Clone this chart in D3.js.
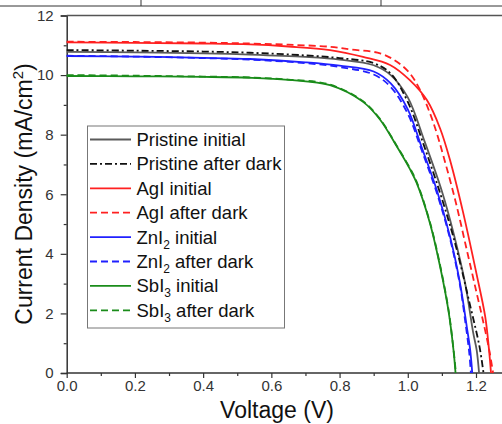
<!DOCTYPE html>
<html>
<head>
<meta charset="utf-8">
<script src="https://cdn.jsdelivr.net/npm/d3@7"></script>
<style>
  html, body { margin: 0; padding: 0; background: #fff; }
  svg { display: block; font-family: Arial, "Liberation Sans", sans-serif; }
</style>
</head>
<body>
<script>
'use strict';

// voltage (V) / current density (mA/cm2)
const pristineInitial = [
  [0, 10.78], [0.2, 10.76], [0.4, 10.73], [0.537, 10.69], [0.7, 10.61], [0.8, 10.52],
  [0.9, 10.33], [0.95, 10.0], [1.0, 9.25], [1.05, 7.75], [1.1, 6.1], [1.134, 4.7],
  [1.168, 3.02], [1.192, 1.34], [1.202, 0.77], [1.209, 0]
];
const pristineDark = [
  [0, 10.84], [0.2, 10.82], [0.4, 10.79], [0.537, 10.75], [0.7, 10.66], [0.8, 10.57],
  [0.9, 10.4], [0.95, 10.05], [1.0, 9.1], [1.05, 7.55], [1.1, 5.85], [1.14, 4.3],
  [1.18, 2.4], [1.21, 0.9], [1.222, 0]
];
const agiInitial = [
  [0, 11.1], [0.2, 11.08], [0.4, 11.06], [0.537, 11.03], [0.65, 10.96], [0.772, 10.84],
  [0.869, 10.61], [0.948, 10.34], [1.006, 9.83], [1.056, 9.16], [1.095, 8.2],
  [1.125, 7.1], [1.162, 5.4], [1.202, 3.3], [1.227, 1.89], [1.238, 0.8], [1.244, 0]
];
const agiDark = [
  [0, 11.12], [0.2, 11.11], [0.4, 11.09], [0.537, 11.06], [0.65, 11.02], [0.772, 10.95],
  [0.831, 10.86], [0.919, 10.73], [0.968, 10.45], [1.006, 10.06], [1.036, 9.5],
  [1.065, 8.72], [1.085, 8.05], [1.104, 7.3], [1.139, 5.81], [1.173, 4.13],
  [1.202, 2.68], [1.222, 1.68], [1.24, 0.7], [1.25, 0]
];
const zniInitial = [
  [0, 10.64], [0.2, 10.62], [0.4, 10.58], [0.537, 10.54], [0.7, 10.43], [0.8, 10.32],
  [0.9, 10.12], [0.95, 9.72], [1.0, 8.85], [1.04, 7.6], [1.085, 6.14], [1.124, 4.57],
  [1.153, 3.02], [1.173, 1.55], [1.183, 0.77], [1.189, 0]
];
const zniDark = [
  [0, 10.65], [0.2, 10.62], [0.4, 10.57], [0.537, 10.52], [0.7, 10.4], [0.8, 10.27],
  [0.9, 10.02], [0.95, 9.6], [1.0, 8.7], [1.04, 7.5], [1.085, 6.05], [1.124, 4.5],
  [1.153, 2.95], [1.17, 1.6], [1.18, 0.7], [1.185, 0]
];
const sbiInitial = [
  [0, 9.97], [0.2, 9.96], [0.4, 9.94], [0.537, 9.91], [0.65, 9.84], [0.772, 9.66],
  [0.869, 9.1], [0.919, 8.5], [0.968, 7.6], [1.006, 6.85], [1.026, 6.38], [1.065, 5.03],
  [1.095, 3.56], [1.119, 2.11], [1.134, 0.77], [1.14, 0]
];
const sbiDark = [
  [0, 10.0], [0.2, 9.98], [0.4, 9.95], [0.537, 9.92], [0.65, 9.85], [0.772, 9.68],
  [0.869, 9.12], [0.919, 8.52], [0.968, 7.62], [1.006, 6.88], [1.026, 6.42], [1.065, 5.06],
  [1.095, 3.6], [1.119, 2.15], [1.134, 0.8], [1.141, 0]
];

const seriesNames = [
  ['Pristine initial'], ['Pristine after dark'],
  ['AgI initial'], ['AgI after dark'],
  ['ZnI', '2', ' initial'], ['ZnI', '2', ' after dark'],
  ['SbI', '3', ' initial'], ['SbI', '3', ' after dark']
];
const seriesData = [pristineInitial, pristineDark, agiInitial, agiDark,
                    zniInitial, zniDark, sbiInitial, sbiDark];
const seriesColors = ['#5a5a5a', '#111111', '#ff2020', '#ff2020',
                      '#2020ff', '#2020ff', '#1a8c1a', '#1a8c1a'];
const seriesDash = ['none', '7,3,2,3', 'none', '7,4', 'none', '7,4', 'none', '7,4'];

const xTicks = [0, 0.2, 0.4, 0.6, 0.8, 1.0, 1.2];
const yTicks = [0, 2, 4, 6, 8, 10, 12];

const W = 502, H = 424;

const svg = d3.select('body').append('svg')
  .attr('width', W)
  .attr('height', H)
  .attr('viewBox', '0 0 ' + W + ' ' + H);

// edge of the table above the figure
svg.append('line').attr('x1', 0).attr('x2', W).attr('y1', 6).attr('y2', 6)
  .attr('stroke', '#333').attr('stroke-width', 1);
[141, 381].forEach((x) => {
  svg.append('line').attr('x1', x).attr('x2', x).attr('y1', 0).attr('y2', 6)
    .attr('stroke', '#333').attr('stroke-width', 1);
});

const x = d3.scaleLinear().domain([0, 1.2]).range([66.7, 476]);
const y = d3.scaleLinear().domain([0, 12]).range([373, 15.5]);

// minor ticks
svg.append('g')
  .attr('transform', 'translate(0,' + y(0) + ')')
  .call(d3.axisBottom(x).tickValues(d3.range(0.1, 1.3, 0.2)).tickSize(3).tickFormat(''))
  .call((g) => g.select('.domain').remove())
  .selectAll('line').attr('stroke', '#333').attr('stroke-width', 1.2);
svg.append('g')
  .attr('transform', 'translate(' + x(0) + ',0)')
  .call(d3.axisLeft(y).tickValues(d3.range(1, 12, 2)).tickSize(3).tickFormat(''))
  .call((g) => g.select('.domain').remove())
  .selectAll('line').attr('stroke', '#333').attr('stroke-width', 1.2);

const xAxis = svg.append('g')
  .attr('transform', 'translate(0,' + y(0) + ')')
  .call(d3.axisBottom(x).tickValues(xTicks).tickSize(5).tickPadding(2)
    .tickFormat(d3.format('.1f')));
xAxis.select('.domain').attr('d', 'M' + x(0) + ',0H' + W);

const yAxis = svg.append('g')
  .attr('transform', 'translate(' + x(0) + ',0)')
  .call(d3.axisLeft(y).tickValues(yTicks).tickSize(6).tickPadding(7)
    .tickFormat(d3.format('d')));

[xAxis, yAxis].forEach((g) => {
  g.select('.domain').attr('stroke', '#333').attr('stroke-width', 1.5);
  g.selectAll('.tick line').attr('stroke', '#333').attr('stroke-width', 1.2);
  g.selectAll('.tick text').attr('font-size', 15).attr('fill', '#333')
    .attr('font-family', 'Arial, "Liberation Sans", sans-serif');
});

// top frame
svg.append('line').attr('x1', x(0)).attr('x2', W).attr('y1', y(12)).attr('y2', y(12))
  .attr('stroke', '#555').attr('stroke-width', 1.5);

const line = d3.line()
  .x((d) => x(d[0]))
  .y((d) => y(d[1]))
  .curve(d3.curveCatmullRom.alpha(0.5));

svg.append('g').selectAll('path')
  .data(seriesData)
  .join('path')
  .attr('d', line)
  .attr('fill', 'none')
  .attr('stroke', (d, i) => seriesColors[i])
  .attr('stroke-width', 1.8)
  .attr('stroke-dasharray', (d, i) => seriesDash[i]);

// legend
const legend = svg.append('g');
legend.append('rect')
  .attr('x', 87.5).attr('y', 126).attr('width', 197).attr('height', 202)
  .attr('fill', '#fff').attr('stroke', '#777').attr('stroke-width', 1);

seriesNames.forEach((name, i) => {
  const ly = 139.5 + i * 24.4;
  legend.append('line')
    .attr('x1', 90).attr('x2', 131).attr('y1', ly).attr('y2', ly)
    .attr('stroke', seriesColors[i]).attr('stroke-width', 1.8)
    .attr('stroke-dasharray', seriesDash[i]);
  const t = legend.append('text')
    .attr('x', 136.5).attr('y', ly + 6.5)
    .attr('font-size', 18.5).attr('fill', '#111');
  t.append('tspan').text(name[0]);
  if (name.length > 1) {
    t.append('tspan').attr('font-size', 12).attr('dy', 5).text(name[1]);
    t.append('tspan').attr('dy', -5).text(name[2]);
  }
});

// axis titles
svg.append('text')
  .attr('x', 277).attr('y', 418)
  .attr('text-anchor', 'middle')
  .attr('font-size', 23).attr('fill', '#111')
  .text('Voltage (V)');

const yt = svg.append('text')
  .attr('transform', 'translate(32,194) rotate(-90)')
  .attr('text-anchor', 'middle')
  .attr('font-size', 23).attr('fill', '#111');
yt.append('tspan').text('Current Density (mA/cm');
yt.append('tspan').attr('font-size', 15).attr('dy', -9).text('2');
yt.append('tspan').attr('dy', 9).text(')');
</script>
</body>
</html>
